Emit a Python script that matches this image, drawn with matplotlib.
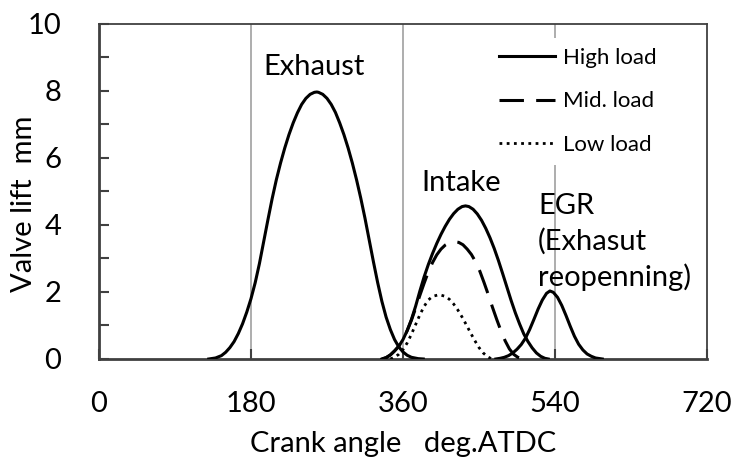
import matplotlib
matplotlib.use("Agg")
import matplotlib.pyplot as plt
from matplotlib.lines import Line2D

plt.rcParams['font.family'] = ['Lato', 'DejaVu Sans']

# ---- data (crank angle deg, valve lift mm) ----
exh_angle = [130, 138, 145, 150, 155, 160, 165, 170, 175, 180, 185, 190, 195, 200, 205, 210,
             215, 220, 225, 230, 235, 240, 245, 250, 255, 258, 260, 265, 270, 275, 280, 285,
             290, 295, 300, 305, 310, 315, 320, 325, 330, 335, 340, 345, 350, 355, 360, 365,
             370, 378, 384]
exh_lift = [0.00, 0.03, 0.10, 0.20, 0.34, 0.52, 0.76, 1.05, 1.40, 1.80, 2.28, 2.85, 3.50, 4.15,
            4.78, 5.35, 5.85, 6.30, 6.70, 7.05, 7.35, 7.60, 7.78, 7.90, 7.96, 7.97, 7.96, 7.90,
            7.78, 7.60, 7.36, 7.05, 6.70, 6.30, 5.85, 5.35, 4.80, 4.20, 3.55, 2.90, 2.28, 1.72,
            1.25, 0.88, 0.58, 0.36, 0.21, 0.11, 0.05, 0.01, 0.00]

int_high_angle = [335, 340, 345, 350, 355, 360, 365, 370, 375, 380, 385, 390, 395, 400, 405, 410,
                  415, 420, 425, 430, 434, 438, 443, 448, 453, 458, 463, 468, 473, 478, 483, 488,
                  493, 498, 503, 508, 513, 518, 523, 528, 532]
int_high_lift = [0.00, 0.04, 0.12, 0.24, 0.38, 0.58, 0.85, 1.18, 1.58, 2.03, 2.45, 2.82, 3.15,
                 3.45, 3.72, 3.96, 4.17, 4.34, 4.47, 4.55, 4.57, 4.55, 4.47, 4.33, 4.14, 3.90,
                 3.62, 3.30, 2.94, 2.55, 2.15, 1.75, 1.38, 1.05, 0.75, 0.52, 0.33, 0.18, 0.08,
                 0.02, 0.00]

int_mid_angle = [335, 340, 345, 350, 355, 360, 365, 370, 375, 380, 385, 390, 395, 400, 405, 410,
                 415, 421, 426, 431, 436, 441, 446, 451, 456, 461, 466, 471, 476, 481, 486, 491,
                 496, 502]
int_mid_lift = [0.00, 0.04, 0.12, 0.24, 0.38, 0.58, 0.85, 1.16, 1.52, 1.90, 2.26, 2.60, 2.88,
                3.11, 3.28, 3.40, 3.47, 3.50, 3.48, 3.41, 3.28, 3.12, 2.90, 2.62, 2.28, 1.92,
                1.54, 1.18, 0.84, 0.54, 0.30, 0.14, 0.05, 0.00]

int_low_angle = [345, 350, 355, 360, 365, 370, 375, 380, 385, 390, 395, 403, 410, 415, 420, 425,
                 430, 435, 440, 445, 450, 455, 460, 465]
int_low_lift = [0.00, 0.05, 0.14, 0.28, 0.48, 0.74, 1.03, 1.32, 1.57, 1.76, 1.87, 1.92, 1.87,
                1.78, 1.64, 1.46, 1.25, 1.02, 0.78, 0.55, 0.34, 0.18, 0.07, 0.00]

egr_angle = [470, 475, 480, 485, 490, 495, 500, 505, 510, 515, 520, 525, 530, 534, 538, 543,
             548, 553, 558, 563, 568, 573, 578, 583, 588, 596]
egr_lift = [0.00, 0.02, 0.05, 0.10, 0.18, 0.29, 0.43, 0.62, 0.88, 1.18, 1.49, 1.76, 1.96, 2.03,
            1.99, 1.84, 1.60, 1.30, 0.98, 0.68, 0.44, 0.27, 0.15, 0.08, 0.03, 0.00]

x_ticks = [0, 180, 360, 540, 720]
y_ticks = [0, 2, 4, 6, 8, 10]
grid_angles = [180, 360, 540]
legend_labels = ["High load", "Mid. load", "Low load"]

# ---- figure ----
fig = plt.figure(figsize=(7.36, 4.58), dpi=100)
ax = fig.add_axes([0.1345, 0.2162, 0.8261, 0.7314])

for g in grid_angles:
    ax.axvline(g, color='#a0a0a0', lw=1.2, zorder=1)

lw = 2.2
ax.plot(exh_angle, exh_lift, color='black', lw=lw, zorder=3)
ax.plot(int_high_angle, int_high_lift, color='black', lw=lw, zorder=3)
ax.plot(int_mid_angle, int_mid_lift, color='black', lw=lw, dashes=(8, 4), zorder=3)
ax.plot(int_low_angle, int_low_lift, color='black', lw=2.0, dashes=(1, 1.6), zorder=3)
ax.plot(egr_angle, egr_lift, color='black', lw=lw, zorder=3)

ax.set_xlim(0, 720)
ax.set_ylim(0, 10)
ax.set_xticks(x_ticks)
ax.set_yticks(y_ticks)
ax.set_yticks([1, 3, 5, 7, 9], minor=True)
ax.tick_params(axis='both', which='both', direction='in', length=7, width=1.5,
               color='#404040', labelsize=21)
ax.tick_params(axis='y', which='both', pad=27)
ax.tick_params(axis='x', which='both', pad=23)

for s in ['left', 'bottom']:
    ax.spines[s].set_color('#404040')
    ax.spines[s].set_linewidth(2.0)
for s in ['top', 'right']:
    ax.spines[s].set_color('#404040')
    ax.spines[s].set_linewidth(1.3)

ax.set_xlabel("Crank angle   deg.ATDC", fontsize=21, va='center')
ax.xaxis.set_label_coords(0.5, -0.255)
ax.set_ylabel("Valve lift  mm", fontsize=21, va='center')
ax.yaxis.set_label_coords(-0.123, 0.463)

ax.text(255, 8.72, "Exhaust", fontsize=21, ha='center', va='center')
ax.text(429, 5.26, "Intake", fontsize=21, ha='center', va='center')
ax.text(520, 4.57, "EGR", fontsize=21, ha='left', va='center')
ax.text(520, 3.50, "(Exhasut", fontsize=21, ha='left', va='center')
ax.text(520, 2.45, "reopenning)", fontsize=21, ha='left', va='center')

handles = [Line2D([], [], color='black', lw=lw),
           Line2D([], [], color='black', lw=lw, dashes=(8, 4)),
           Line2D([], [], color='black', lw=2.0, dashes=(1, 1.6))]
leg = ax.legend(handles, legend_labels, loc='upper left', bbox_to_anchor=(0.642, 0.958),
                fontsize=16, frameon=True, facecolor='white', edgecolor='none', framealpha=1,
                fancybox=False, borderpad=0.45, borderaxespad=0, handlelength=2.52,
                handletextpad=0.36, labelspacing=1.05)
leg.set_zorder(5)

fig.savefig("out.png", dpi=100)
